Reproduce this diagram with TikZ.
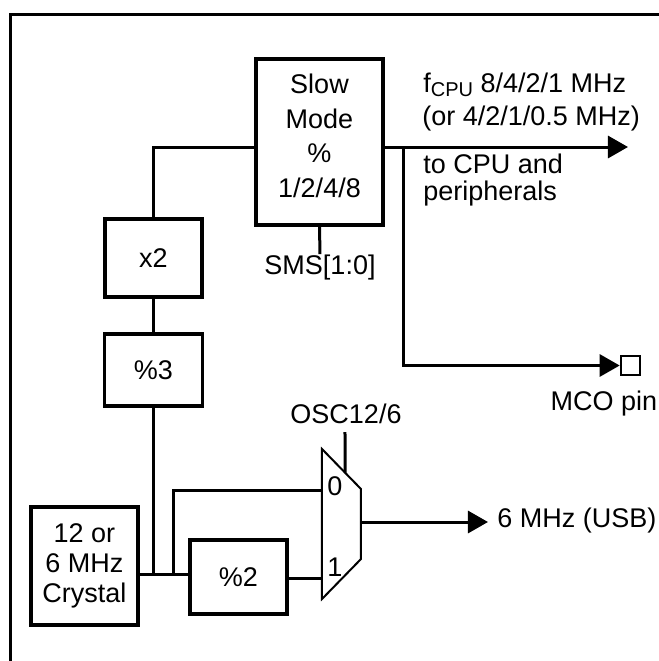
\documentclass[tikz,border=0pt]{standalone}
\usepackage{fontspec}
\setmainfont{Liberation Sans}
\usetikzlibrary{arrows.meta,calc}
\begin{document}
\begin{tikzpicture}[x=0.5pt,y=-0.5pt,
  txt/.style={font=\fontsize{13.5}{15}\selectfont},
  blk/.style={draw,line width=1.6pt,inner sep=0pt,txt,align=center},
  lbl/.style={inner sep=0pt,txt},
  wire/.style={line width=1.5pt},
  arr/.style={-{Triangle[length=10pt,width=11pt]}},
  muxline/.style={line width=1pt,line join=miter}]
\useasboundingbox (0,0) rectangle (659,661);
% frame
\draw[line width=1.5pt] (10.5,680) -- (10.5,14.5) -- (680,14.5);
% blocks
\node[blk,minimum width=63.5pt,minimum height=83pt,
  label={[lbl,align=center,yshift=3pt,font=\fontsize{13.5}{17.3}\selectfont]center:Slow\\Mode\\\%\\1/2/4/8}]
  (slow) at (319.5,142) {};
\node[blk,minimum width=48.5pt,minimum height=39pt] (x2) at (153.5,258) {x2};
\node[blk,minimum width=49pt,minimum height=36pt] (p3) at (153.5,370) {\%3};
\node[blk,minimum width=53.5pt,minimum height=59pt] (xtal) at (84.5,566) {12 or\\6 MHz\\Crystal};
\node[blk,minimum width=48.5pt,minimum height=37pt] (p2) at (238.5,577) {\%2};
\node[draw,line width=1.3pt,minimum size=9.5pt,inner sep=0pt] (mco) at (630.5,365.5) {};
% mux
\coordinate (mtl) at (322,449);
\coordinate (mtr) at (361,489);
\coordinate (mbr) at (361,559);
\coordinate (mbl) at (322,599);
\draw[muxline] (mtl) -- (mtr) -- (mbr) -- (mbl) -- cycle;
\node[lbl] (in0) at (335,486) {0};
\node[lbl] (in1) at (335,567) {1};
% labels
\node[lbl,anchor=base] (sms) at (320,274) {SMS[1:0]};
\node[lbl,anchor=base] (osc) at (346,423) {OSC12/6};
\node[lbl,anchor=base] (mcol) at (604,410) {MCO pin};
\node[lbl,anchor=base west] (usb) at (497,527) {6 MHz (USB)};
\node[lbl,anchor=base west] (fcpu) at (423,92) {f\raisebox{-2pt}{\fontsize{10}{10}\selectfont CPU} 8/4/2/1 MHz};
\node[lbl,anchor=base west] (fcpu2) at (422,125) {(or 4/2/1/0.5 MHz)};
\node[lbl,anchor=base west] (tocpu) at (423,173) {to CPU and};
\node[lbl,anchor=base west] (periph) at (423,200) {peripherals};
% rows
\coordinate (rowA) at (0,147);
\coordinate (rowC) at (0,574);
\coordinate (rowD) at (0,578);
\coordinate (cputip) at (628,147);
\coordinate (brA) at (404,147);
\coordinate (j1) at (153.5,574);
\coordinate (j2) at (174,574);
\coordinate (m0) at (322,490);
\coordinate (m1) at (322,578);
\coordinate (mout) at (361,522);
\coordinate (usbtip) at (488,522);
\coordinate (osctop) at (345,432);
\coordinate (oscbot) at ($(mtl)!0.59!(mtr)$);
% wires
\draw[wire] (x2.north) |- (slow.west |- rowA);
\draw[wire] (x2.south) -- (p3.north);
\draw[wire] (p3.south) -- (j1);
\draw[wire] (xtal.east |- rowC) -- (p2.west |- rowC);
\draw[wire] (j2) |- (m0);
\draw[wire] (p2.east |- rowD) -- (m1);
\draw[wire] (slow.south) -- (sms.north);
\draw[wire] (osctop) -- (oscbot);
\draw[wire,arr] (slow.east |- rowA) -- (cputip);
\draw[wire,arr] (brA) |- (mco.west);
\draw[wire,arr] (mout) -- (usbtip);
\end{tikzpicture}
\end{document}
